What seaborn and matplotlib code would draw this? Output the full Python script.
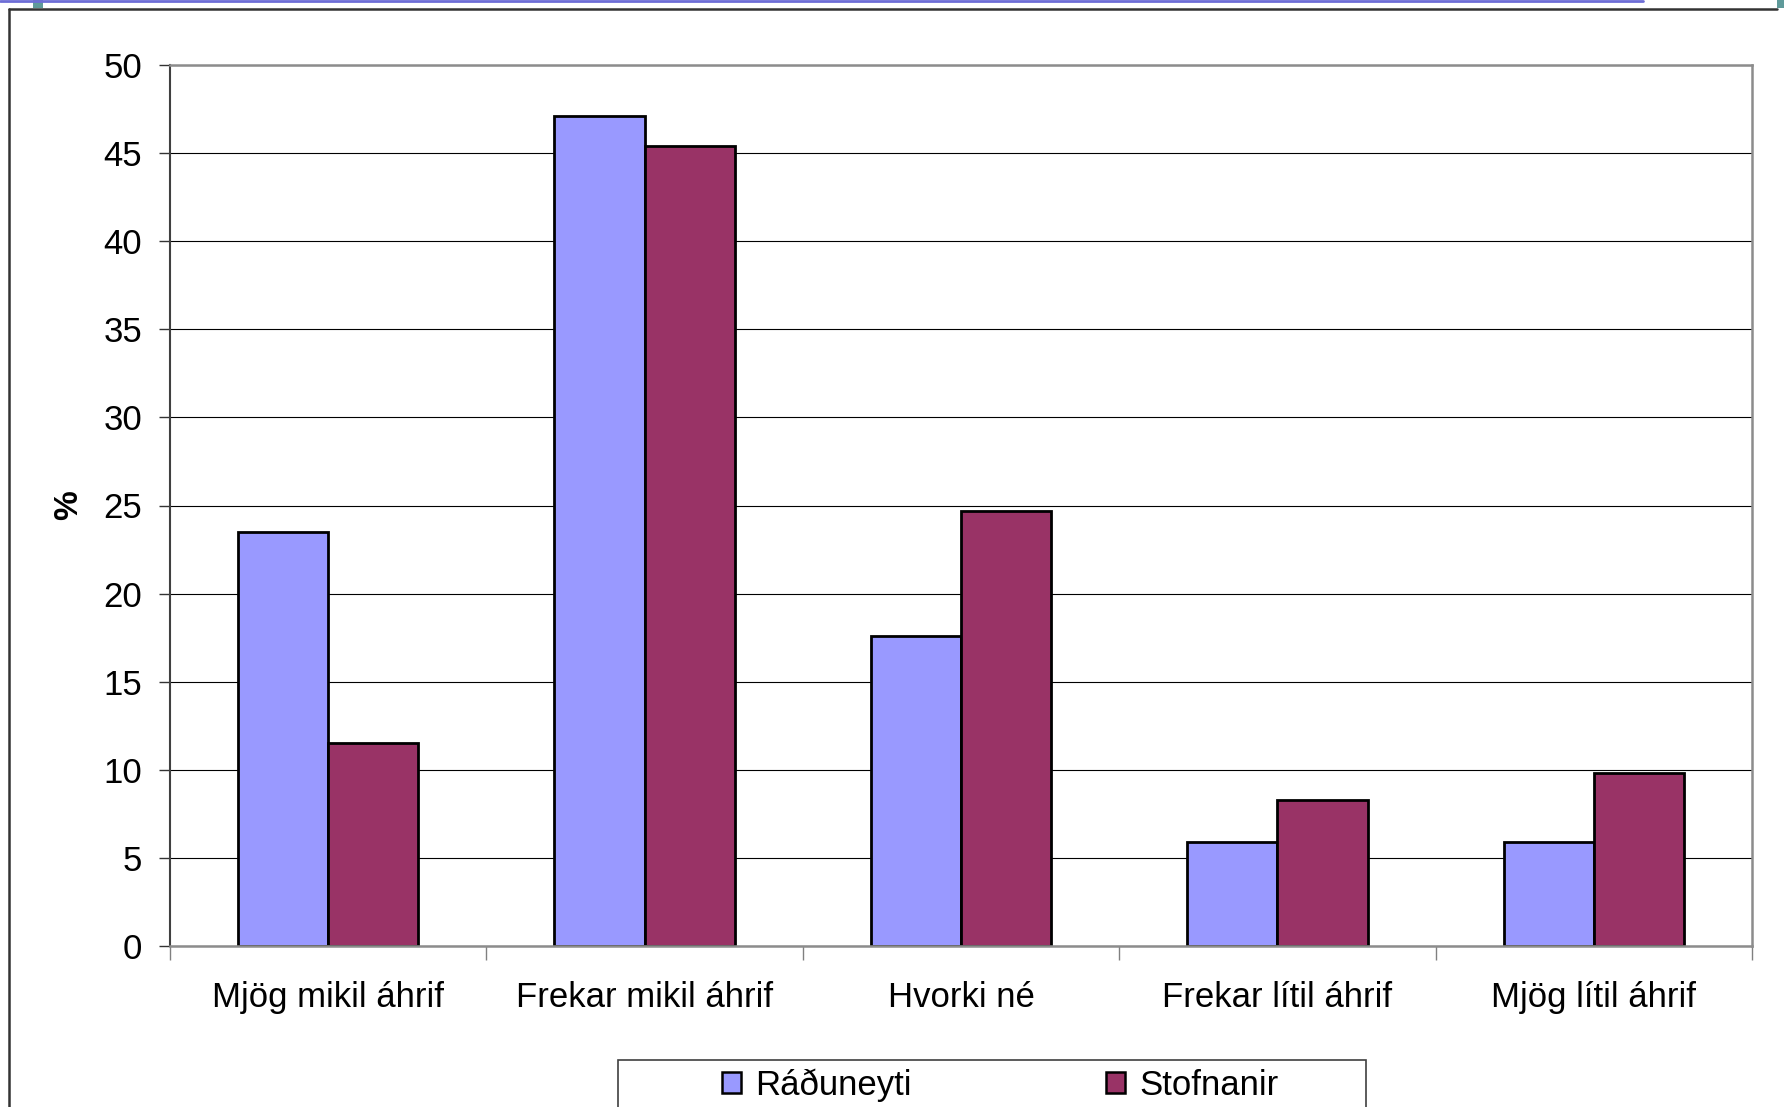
import matplotlib
matplotlib.use("Agg")
import matplotlib.pyplot as plt
import seaborn as sns
import pandas as pd
from matplotlib.lines import Line2D
from matplotlib.patches import Rectangle, Patch

categories = ["Mjög mikil áhrif", "Frekar mikil áhrif", "Hvorki né", "Frekar lítil áhrif", "Mjög lítil áhrif"]
series_names = ["Ráðuneyti", "Stofnanir"]
raduneyti = [23.5, 47.1, 17.6, 5.9, 5.9]
stofnanir = [11.5, 45.4, 24.7, 8.3, 9.8]
colors = ["#9999FF", "#993366"]
y_ticks = [0, 5, 10, 15, 20, 25, 30, 35, 40, 45, 50]

rows = []
for c, a, b in zip(categories, raduneyti, stofnanir):
    rows.append({"cat": c, "val": a, "series": series_names[0]})
    rows.append({"cat": c, "val": b, "series": series_names[1]})
df = pd.DataFrame(rows)

sns.set_theme(style="white")
plt.rcParams["font.family"] = ["Liberation Sans", "DejaVu Sans"]
plt.rcParams["text.color"] = "black"
plt.rcParams["xtick.color"] = "black"
plt.rcParams["ytick.color"] = "black"
plt.rcParams["axes.labelcolor"] = "black"

W, H = 1784, 1107
fig = plt.figure(figsize=(W / 100, H / 100), dpi=100)
ax = fig.add_axes([170 / W, 1 - 946 / H, (1752 - 170) / W, (946 - 65) / H])

sns.barplot(data=df, x="cat", y="val", hue="series", order=categories,
            hue_order=series_names, palette=colors, width=0.57,
            edgecolor="black", linewidth=2.0, saturation=1, ax=ax, legend=False)

ax.set_xlim(-0.5, len(categories) - 0.5)
ax.set_ylim(0, 50)
ax.set_yticks(y_ticks)
ax.set_yticklabels([str(t) for t in y_ticks], fontsize=25, color="black")
ax.yaxis.grid(True, color="black", linewidth=0.8)
ax.set_axisbelow(True)
ax.set_xlabel("")
ax.set_ylabel("%", fontsize=24, fontweight="bold", labelpad=14, color="black")

ax.tick_params(axis="y", which="major", length=8, width=1, color="#333333",
               pad=12, left=True, direction="out", labelcolor="black")
ax.tick_params(axis="x", which="major", length=0, pad=25, labelsize=25, labelcolor="black")
ax.set_xticks(range(len(categories)))
ax.set_xticklabels(categories)
ax.set_xticks([i - 0.5 for i in range(len(categories) + 1)], minor=True)
ax.tick_params(axis="x", which="minor", length=10, width=1, color="#808080",
               bottom=True, direction="out")

for side in ["top", "right", "bottom"]:
    ax.spines[side].set_visible(True)
    ax.spines[side].set_color("#8c8c8c")
    ax.spines[side].set_linewidth(1.8)
ax.spines["left"].set_color("#404040")
ax.spines["left"].set_linewidth(1.5)

# legend (frame drawn separately, clipped by the figure bottom like the reference)
handles = [Patch(facecolor=col, edgecolor="black", linewidth=1.8) for col in colors]
leg = fig.legend(handles, series_names, loc="center left",
                 bbox_to_anchor=(722 / W, 1 - 1085 / H),
                 ncol=2, fontsize=25, frameon=False,
                 handlelength=0.55, handleheight=0.55, handletextpad=0.4,
                 columnspacing=5.6, borderpad=0, borderaxespad=0)
fig.add_artist(Rectangle((618 / W, -0.05), (1366 - 618) / W, 0.05 + (1107 - 1060) / H,
                         transform=fig.transFigure, facecolor="none",
                         edgecolor="#404040", linewidth=1.2))

# slide decorations
fig.add_artist(Line2D([9 / W, 9 / W], [0, 1 - 9 / H], transform=fig.transFigure,
                      color="#333333", linewidth=1.8))
fig.add_artist(Line2D([9 / W, 1777 / W], [1 - 9 / H, 1 - 9 / H], transform=fig.transFigure,
                      color="#333333", linewidth=1.8))
fig.add_artist(Line2D([0, 1643 / W], [1 - 1 / H, 1 - 1 / H], transform=fig.transFigure,
                      color="#6d6dd6", linewidth=2))
fig.add_artist(Rectangle((33 / W, 1 - 8 / H), 10 / W, 8 / H, transform=fig.transFigure,
                         facecolor="#5f9a9a", edgecolor="none"))
fig.add_artist(Rectangle((1777 / W, 1 - 8 / H), 7 / W, 8 / H, transform=fig.transFigure,
                         facecolor="#5f9a9a", edgecolor="none"))

fig.savefig("out.png", dpi=100)
